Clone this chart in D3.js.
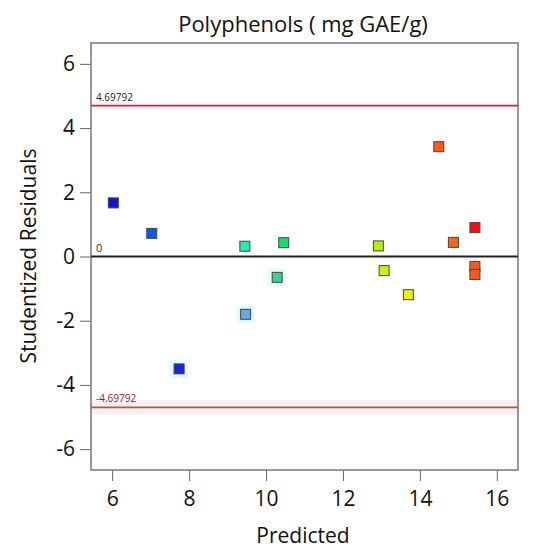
<!DOCTYPE html>
<html>
<head>
<meta charset="utf-8">
<script src="https://cdn.jsdelivr.net/npm/d3@7"></script>
<style>
    body { margin: 0; background: #fff; }
    svg { font-family: "Open Sans", "Noto Sans", sans-serif; }
</style>
</head>
<body>
<div id="chart"></div>
<script>
var predicted = [6.03, 7.03, 7.74, 9.45, 9.47, 10.29, 10.46, 12.92, 13.07, 13.70, 14.49, 14.87, 15.43, 15.43, 15.43];
var residuals = [1.67, 0.72, -3.50, 0.32, -1.80, -0.65, 0.43, 0.33, -0.44, -1.19, 3.42, 0.44, 0.90, -0.31, -0.56];
var pointColors = ["#0a14e6", "#0a5af5", "#1e1ee6", "#1ef0b4", "#64a5f0", "#3cd28c", "#0ae664",
    "#b4f00a", "#d2f00a", "#e6f00a", "#ff5a14", "#ff6414", "#ff0a0a", "#ff5a14", "#ff5a14"];
var highlighted = [false, false, true, false, true, true, false, false, false, false, false, false, false, false, false];
var xTicks = [6, 8, 10, 12, 14, 16];
var yTicks = [-6, -4, -2, 0, 2, 4, 6];
var limitValue = 4.69792;

var width = 539, height = 550;
var margin = { top: 43, right: 21, bottom: 80, left: 91 };
var innerW = width - margin.left - margin.right;
var innerH = height - margin.top - margin.bottom;

var svg = d3.select("#chart").append("svg")
    .attr("width", width)
    .attr("height", height);

var x = d3.scaleLinear().domain([5.45, 16.55]).range([0, innerW]);
var y = d3.scaleLinear().domain([-6.65, 6.65]).range([innerH, 0]);

var g = svg.append("g").attr("transform", "translate(" + margin.left + "," + margin.top + ")");

// title
svg.append("text")
    .attr("x", 303).attr("y", 32)
    .attr("text-anchor", "middle")
    .style("font-size", "22px")
    .style("fill", "#111")
    .text("Polyphenols ( mg GAE/g)");

// pink band behind lower limit
g.append("rect")
    .attr("x", 0).attr("width", innerW)
    .attr("y", y(-limitValue) - 7).attr("height", 14)
    .style("fill", "#fdeef5");

// axes (plain hyphen for negatives, like the original)
var fmt = function (d) { return String(d); };
var xAxis = g.append("g")
    .attr("transform", "translate(0," + innerH + ")")
    .call(d3.axisBottom(x).tickValues(xTicks).tickFormat(fmt).tickSize(11).tickSizeOuter(0).tickPadding(10));
var yAxis = g.append("g")
    .call(d3.axisLeft(y).tickValues(yTicks).tickFormat(fmt).tickSize(11).tickSizeOuter(0).tickPadding(5));
[xAxis, yAxis].forEach(function (a) {
    a.select(".domain").remove();
    a.selectAll("line").style("stroke", "#666");
    a.selectAll("text").style("font-size", "21px").style("fill", "#111")
        .style("font-family", "\"Open Sans\", \"Noto Sans\", sans-serif");
});

// frame
g.append("rect")
    .attr("width", innerW).attr("height", innerH)
    .style("fill", "none").style("stroke", "#777").style("stroke-width", 1.5);

// reference lines
var refLines = [
    { v: limitValue, color: "#f0143c", label: "4.69792", labelColor: "#222" },
    { v: 0, color: "#222", label: "0", labelColor: "#333" },
    { v: -limitValue, color: "#a8642a", label: "-4.69792", labelColor: "#8b1a3a" }
];
refLines.forEach(function (r) {
    g.append("line")
        .attr("x1", 0).attr("x2", innerW)
        .attr("y1", y(r.v)).attr("y2", y(r.v))
        .style("stroke", r.color).style("stroke-width", r.v === 0 ? 2 : 1.6);
    g.append("text")
        .attr("x", 5).attr("y", y(r.v) - 5)
        .style("font-size", r.v === 0 ? "11px" : "10px")
        .style("fill", r.labelColor)
        .text(r.label);
});

// points
var pts = predicted.map(function (p, i) {
    return { x: p, y: residuals[i], c: pointColors[i], h: highlighted[i] };
});
var s = 10;
g.selectAll(".halo").data(pts.filter(function (d) { return d.h; }))
    .enter().append("rect")
    .attr("x", function (d) { return x(d.x) - s / 2 - 4; })
    .attr("y", function (d) { return y(d.y) - s / 2 - 4; })
    .attr("width", s + 8).attr("height", s + 8)
    .style("fill", "#e2fbfb");
g.selectAll(".pt").data(pts)
    .enter().append("rect")
    .attr("x", function (d) { return x(d.x) - s / 2; })
    .attr("y", function (d) { return y(d.y) - s / 2; })
    .attr("width", s).attr("height", s)
    .style("fill", function (d) { return d.c; })
    .style("stroke", "#444").style("stroke-width", 1);

// axis titles
svg.append("text")
    .attr("x", 303).attr("y", 543)
    .attr("text-anchor", "middle")
    .style("font-size", "21px").style("fill", "#111")
    .text("Predicted");
svg.append("text")
    .attr("transform", "translate(36,256) rotate(-90)")
    .attr("text-anchor", "middle")
    .style("font-size", "21px").style("fill", "#111")
    .text("Studentized Residuals");
</script>
</body>
</html>
